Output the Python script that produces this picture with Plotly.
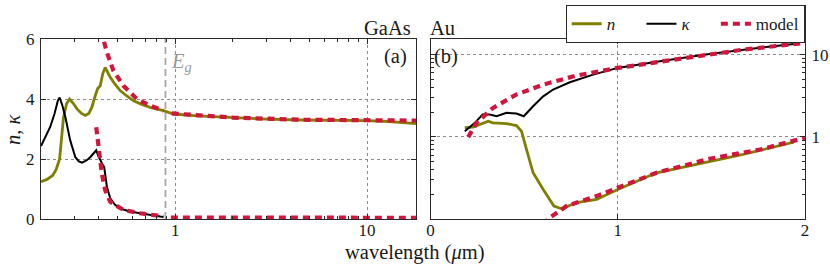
import plotly.graph_objects as go
from plotly.subplots import make_subplots

# ---------------- data ----------------
gaas_lam_n = [0.200, 0.215, 0.230, 0.240, 0.250, 0.262, 0.272, 0.282, 0.295, 0.308, 0.325, 0.340,
              0.355, 0.368, 0.385, 0.395, 0.407, 0.420, 0.432, 0.445, 0.459, 0.485, 0.517, 0.560,
              0.607, 0.670, 0.741, 0.869, 0.98, 1.3, 2.0, 3.0, 4.48, 7.0, 9.96, 13.0, 17.4, 18.0]
gaas_n = [1.24, 1.32, 1.45, 1.65, 2.0, 3.39, 3.85, 4.0, 3.85, 3.67, 3.52, 3.45,
          3.52, 3.72, 4.15, 4.35, 4.44, 4.85, 5.05, 4.9, 4.72, 4.5, 4.28, 4.1,
          3.94, 3.82, 3.72, 3.61, 3.50, 3.44, 3.38, 3.33, 3.30, 3.29, 3.28, 3.25, 3.19, 3.18]

gaas_lam_k = [0.200, 0.212, 0.223, 0.235, 0.245, 0.250, 0.258, 0.268, 0.284, 0.302, 0.315, 0.327,
              0.345, 0.361, 0.378, 0.388, 0.398, 0.407, 0.420, 0.427, 0.441, 0.459, 0.485, 0.517,
              0.58, 0.657, 0.75, 0.835, 0.87]
gaas_k = [2.43, 2.75, 3.06, 3.5, 3.95, 4.05, 3.8, 3.39, 2.62, 2.06, 1.92, 1.88,
          1.95, 2.06, 2.2, 2.29, 2.1, 1.96, 1.8, 1.73, 1.07, 0.69, 0.48, 0.35,
          0.25, 0.19, 0.12, 0.08, 0.07]

gaas_model_lam_n = [0.415, 0.424, 0.441, 0.477, 0.538, 0.631, 0.741, 0.869, None,
                    0.96, 1.3, 2.0, 4.48, 10.0, 18.0]
gaas_model_n = [6.3, 5.96, 5.55, 4.94, 4.44, 4.0, 3.78, 3.61, None,
                3.52, 3.45, 3.38, 3.31, 3.29, 3.28]

gaas_model_lam_k = [0.388, 0.399, 0.415, 0.432, 0.459, 0.538, 0.657, 0.869, None, 0.95, 18.0]
gaas_model_k = [3.06, 2.40, 1.51, 0.96, 0.57, 0.30, 0.19, 0.09, None, 0.05, 0.04]

gaas_eg = 0.89

au_lam_k = [0.183, 0.237, 0.278, 0.317, 0.353, 0.406, 0.459, 0.498, 0.548, 0.602, 0.655,
            0.744, 0.869, 1.0, 1.225, 1.49, 1.76, 1.94]
au_k = [1.17, 1.48, 1.87, 1.87, 1.78, 1.96, 1.92, 1.78, 2.35, 3.11, 3.76,
        4.61, 5.71, 6.89, 8.3, 10.2, 12.1, 13.5]

au_lam_n = [0.183, 0.228, 0.263, 0.308, 0.334, 0.406, 0.459, 0.486, 0.513, 0.548, 0.602,
            0.659, 0.70, 0.78, 0.887, 1.0, 1.207, 1.49, 1.67, 1.94]
au_n = [1.29, 1.31, 1.41, 1.55, 1.48, 1.45, 1.37, 1.17, 0.70, 0.365, 0.229,
        0.144, 0.133, 0.158, 0.173, 0.229, 0.365, 0.505, 0.61, 0.86]

au_model_lam_k = [0.201, 0.246, 0.334, 0.459, 0.602, 0.78, 1.0, 1.314, 1.67, 2.0]
au_model_k = [0.99, 1.48, 2.25, 3.27, 4.32, 5.56, 6.89, 8.87, 11.5, 13.9]

au_model_lam_n = [0.60, 0.637, 0.727, 0.887, 1.0, 1.207, 1.49, 1.76, 2.0]
au_model_n = [0.085, 0.104, 0.144, 0.19, 0.24, 0.365, 0.54, 0.70, 0.97]

legend_names = ["<i>n</i>", "<i>κ</i>", "model"]

# ---------------- style ----------------
OLIVE = "#808000"
RED = "#d3143c"
FONT = "Liberation Serif, DejaVu Serif, serif"
TXT = "#1a1a1a"
FRAME = "#2a2a2a"
W, H = 830, 264

fig = make_subplots(rows=1, cols=2)

n_style = dict(color=OLIVE, width=2.8)
k_style = dict(color="black", width=2)
m_style = dict(color=RED, width=4.2, dash="7px,5px")
PAD = "\u00a0" * 5

# left panel (GaAs)
fig.add_trace(go.Scatter(x=[gaas_eg, gaas_eg], y=[0, 6], mode="lines",
                         line=dict(color="#a8a8a8", width=1.8, dash="7px,4px"),
                         showlegend=False, hoverinfo="skip"), row=1, col=1)
fig.add_trace(go.Scatter(x=gaas_lam_n, y=gaas_n, mode="lines", line=n_style,
                         name=legend_names[0] + PAD, legendrank=1), row=1, col=1)
fig.add_trace(go.Scatter(x=gaas_lam_k, y=gaas_k, mode="lines", line=k_style,
                         name=legend_names[1] + PAD, legendrank=2), row=1, col=1)
fig.add_trace(go.Scatter(x=gaas_model_lam_n, y=gaas_model_n, mode="lines", line=m_style,
                         name=legend_names[2], legendrank=3, connectgaps=False), row=1, col=1)
fig.add_trace(go.Scatter(x=gaas_model_lam_k, y=gaas_model_k, mode="lines", line=m_style,
                         showlegend=False, connectgaps=False), row=1, col=1)

# right panel (Au)
fig.add_trace(go.Scatter(x=au_lam_n, y=au_n, mode="lines", line=n_style, showlegend=False), row=1, col=2)
fig.add_trace(go.Scatter(x=au_lam_k, y=au_k, mode="lines", line=k_style, showlegend=False), row=1, col=2)
fig.add_trace(go.Scatter(x=au_model_lam_n, y=au_model_n, mode="lines", line=m_style, showlegend=False), row=1, col=2)
fig.add_trace(go.Scatter(x=au_model_lam_k, y=au_model_k, mode="lines", line=m_style, showlegend=False), row=1, col=2)

axis_common = dict(showline=True, linecolor=FRAME, linewidth=1.2, mirror="allticks",
                   ticks="inside", ticklen=5, tickcolor=FRAME, automargin=False,
                   showgrid=True, gridcolor="#8c8c8c", gridwidth=1, griddash="dot",
                   zeroline=False, tickfont=dict(family=FONT, size=17, color=TXT))

ytop = 1 - 39 / H
ybot = 1 - 219 / H

fig.update_xaxes(type="log", range=[-0.699, 1.255], tickvals=[1, 10], ticktext=["1", "10"],
                 domain=[41 / W, 416 / W], ticklabelstandoff=-5,
                 minor=dict(ticks="inside", ticklen=3, tickcolor=FRAME, showgrid=False,
                            tickvals=[0.3, 0.4, 0.5, 0.6, 0.7, 0.8, 0.9, 2, 3, 4, 5, 6, 7, 8, 9]),
                 **axis_common, row=1, col=1)
fig.update_yaxes(range=[0, 6], tickvals=[0, 2, 4, 6], domain=[ybot, ytop], ticklabelstandoff=2,
                 **axis_common, row=1, col=1)
fig.update_xaxes(range=[0, 2], tickvals=[0, 1, 2], domain=[430.5 / W, 805 / W], ticklabelstandoff=-5,
                 **axis_common, row=1, col=2)
fig.update_yaxes(type="log", range=[-1, 1.19], tickvals=[1, 10], ticktext=["1", "10"],
                 side="right", domain=[ybot, ytop], ticklabelstandoff=2,
                 minor=dict(ticks="inside", ticklen=3, tickcolor=FRAME, showgrid=False,
                            tickvals=[0.2, 0.3, 0.4, 0.5, 0.6, 0.7, 0.8, 0.9, 2, 3, 4, 5, 6, 7, 8, 9]),
                 **axis_common, row=1, col=2)

def ann(text, x, y, xanchor="center", yanchor="middle", color=TXT, size=20.5, angle=0):
    fig.add_annotation(text=text, x=x / W, y=1 - y / H, xref="paper", yref="paper",
                       xanchor=xanchor, yanchor=yanchor, showarrow=False, textangle=angle,
                       font=dict(family=FONT, size=size, color=color))

ann("GaAs", 413, 28.5, xanchor="right")
ann("Au", 428, 28.5, xanchor="left")
ann("(a)", 409, 56.5, xanchor="right")
ann("(b)", 432, 56.5, xanchor="left")
ann("<i>E</i><sub><i>g</i></sub>", 181, 62, color="#9a9a9a", size=20.5)
ann("wavelength (<i>μ</i>m)", 415, 252)
ann("<i>n</i>, <i>κ</i>", 13, 129, angle=-90)

fig.update_layout(
    template="none",
    width=W, height=H, margin=dict(l=0, r=0, t=0, b=0, autoexpand=False),
    paper_bgcolor="white", plot_bgcolor="white",
    font=dict(family=FONT, size=17, color=TXT),
    showlegend=True,
    legend=dict(orientation="h", x=805.5 / W, y=1 - 5 / H, xanchor="right", yanchor="top",
                bordercolor=FRAME, borderwidth=1.2, bgcolor="white",
                font=dict(family=FONT, size=17, color=TXT), itemwidth=30,
                tracegroupgap=0),
)

fig.write_html("out.html", config={"displayModeBar": False},
               post_script="document.body.style.margin='0';document.body.style.overflow='hidden';")
